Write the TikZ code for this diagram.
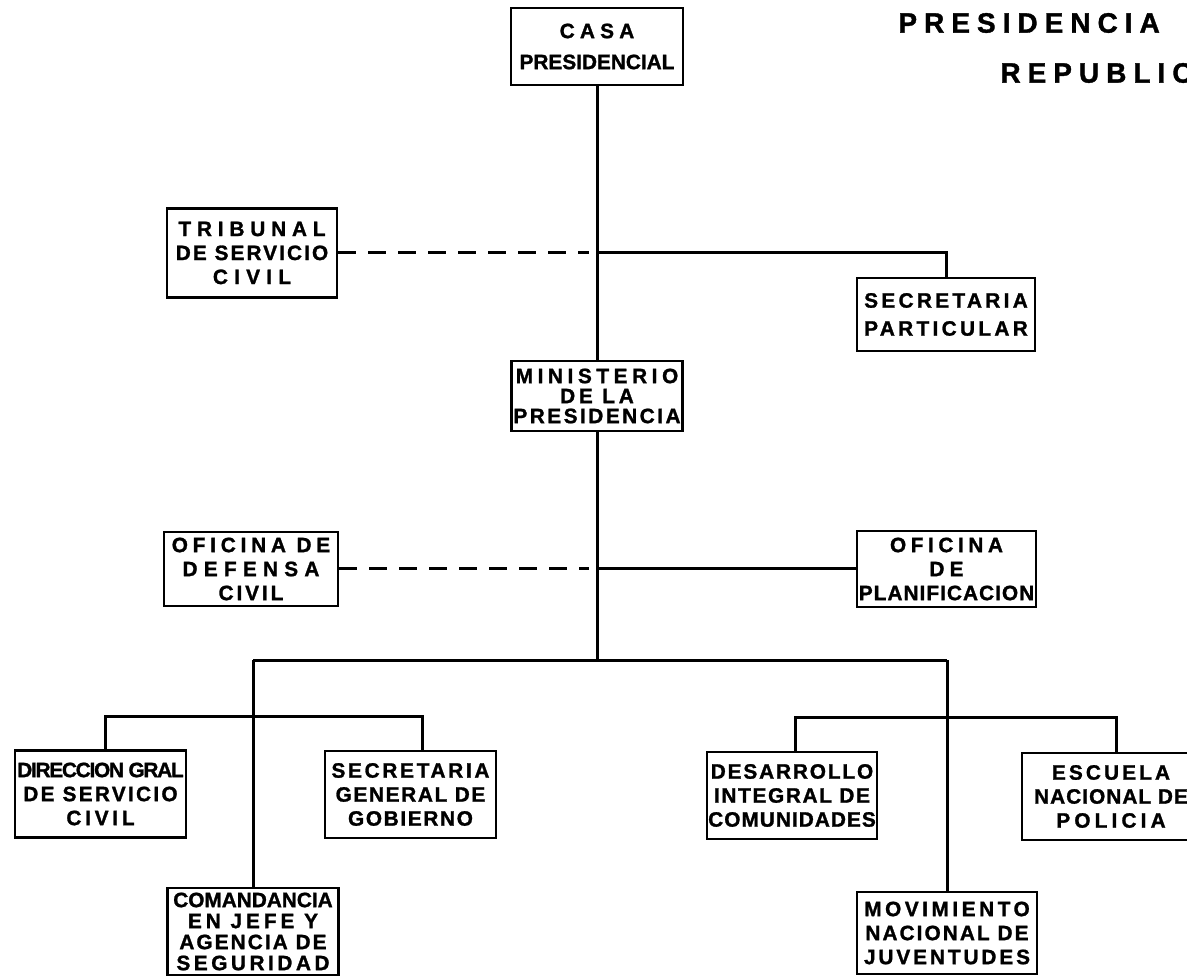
\documentclass[tikz,border=0pt]{standalone}
\usepackage{fontspec}
\newfontfamily\orgfont{Liberation Sans}[BoldFeatures={FakeBold=1.3}]
% letter spaced line
\newcommand\ls[2]{{\addfontfeatures{LetterSpace=#1}#2}}

\begin{document}
\begin{tikzpicture}[x=0.5pt,y=-0.5pt,
        office/.style={draw,line width=1.2pt,align=center,inner sep=0pt,
            minimum width=85.5pt,minimum height=43.5pt,
            font=\orgfont\bfseries\fontsize{10.4}{12}\selectfont},
        orgline/.style={line width=1.5pt},
        auxline/.style={line width=1.5pt,dash pattern=on 9pt off 6pt}]
    \clip (0,0) rectangle (1187,977);

    % title
    \node[anchor=west,inner sep=0pt,font=\orgfont\bfseries\fontsize{14}{16}\selectfont]
        (title1) at (898,23) {\ls{25}{PRESIDENCIA}};
    \node[anchor=west,inner sep=0pt,font=\orgfont\bfseries\fontsize{14}{16}\selectfont]
        (title2) at (1000,73) {\ls{25}{REPUBLICA}};

    % offices
    \node[office,minimum width=86pt,minimum height=38.5pt] (casa) at (597,46.5)
        {\ls{25}{CASA}\\[3.5pt]PRESIDENCIAL};
    \node[office,minimum width=85pt,minimum height=44.5pt] (tribunal) at (252,253)
        {\ls{28}{TRIBUNAL}\\\ls{10}{DE SERVICIO}\\\ls{30}{CIVIL}};
    \node[office,minimum width=89pt,minimum height=36.5pt] (secpart) at (946,314.5)
        {\ls{16}{SECRETARIA}\\[2pt]\ls{16}{PARTICULAR}};
    \node[office,minimum width=85.5pt,minimum height=35pt] (ministerio) at (597,396)
        {\ls{22}{MINISTERIO}\\[-2pt]\ls{18}{DE LA}\\[-2pt]\ls{12}{PRESIDENCIA}};
    \node[office,minimum width=87pt,minimum height=37pt] (defensa) at (251,569)
        {\ls{23}{OFICINA DE}\\\ls{30}{DEFENSA}\\\ls{14}{CIVIL}};
    \node[office,minimum width=89.5pt,minimum height=38pt] (planif) at (946.5,569)
        {\ls{22}{OFICINA}\\\ls{25}{DE}\\\ls{5}{PLANIFICACION}};
    \node[office] (direccion) at (100.5,794)
        {\ls{-6}{DIRECCION GRAL}\\\ls{11}{DE SERVICIO}\\\ls{18}{CIVIL}};
    \node[office] (secgral) at (410.5,794.5)
        {\ls{13}{SECRETARIA}\\\ls{8}{GENERAL DE}\\\ls{8}{GOBIERNO}};
    \node[office,font=\orgfont\bfseries\fontsize{10.4}{10.5}\selectfont] (comandancia) at (253,931.5)
        {COMANDANCIA\\\ls{19}{EN JEFE Y}\\\ls{10}{AGENCIA DE}\\\ls{17}{SEGURIDAD}};
    \node[office,minimum width=85pt] (desarrollo) at (792,795.5)
        {\ls{9}{DESARROLLO}\\\ls{8}{INTEGRAL DE}\\\ls{5}{COMUNIDADES}};
    \node[office,minimum width=89pt] (escuela) at (1111,796.5)
        {\ls{15}{ESCUELA}\\\ls{5}{NACIONAL DE}\\\ls{20}{POLICIA}};
    \node[office,minimum width=90pt,minimum height=41pt] (movimiento) at (947,933)
        {\ls{17}{MOVIMIENTO}\\\ls{10}{NACIONAL DE}\\\ls{14}{JUVENTUDES}};

    % junctions
    \coordinate (j1) at (597,253);
    \coordinate (j2) at (597,569);
    \coordinate (j3) at (597,660);
    \coordinate (lb) at (253,660);
    \coordinate (rb) at (947,660);
    \coordinate (dl) at (105,716);
    \coordinate (dr) at (422,716);
    \coordinate (el) at (795,717);
    \coordinate (er) at (1116,717);

    % connectors
    \draw[orgline] (casa) -- (ministerio);
    \draw[orgline] (j1) -| (secpart.north);
    \draw[auxline] (tribunal.east) -- ([xshift=-4pt]j1);
    \draw[orgline] (j2) -- (planif.west);
    \draw[auxline] (defensa.east) -- ([xshift=-4pt]j2);
    \draw[orgline] (ministerio) -- (j3);
    \draw[orgline] (lb) -- (rb);
    \draw[orgline] (lb) -- (comandancia);
    \draw[orgline] (rb) -- (movimiento);
    \draw[orgline] (direccion.north -| dl) -- (dl) -- (dr) -- (secgral.north -| dr);
    \draw[orgline] (desarrollo.north -| el) -- (el) -- (er) -- (escuela.north -| er);
\end{tikzpicture}
\end{document}
